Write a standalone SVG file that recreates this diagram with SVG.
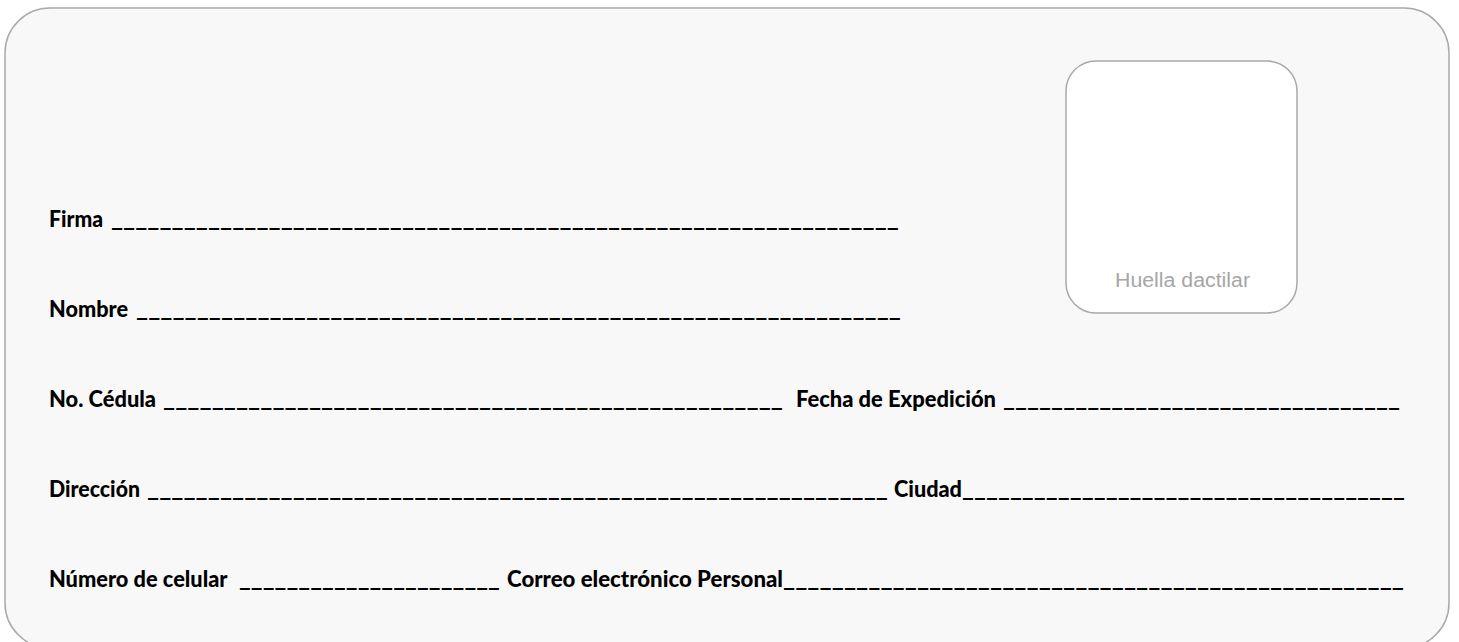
<svg xmlns="http://www.w3.org/2000/svg" width="1459" height="642" viewBox="0 0 1459 642">
  <style>
    .card { fill: #f8f8f8; stroke: #a9a9a9; stroke-width: 1.5; }
    .thumb { fill: #ffffff; stroke: #a9a9a9; stroke-width: 1.5; }
    .lbl { font-family: Lato, "Liberation Sans", sans-serif; font-weight: 900; font-size: 23px; fill: #000000; }
    .ul { font-family: Lato, "Liberation Sans", sans-serif; font-weight: 900; font-size: 23px; fill: #000000; }
    .hint { font-family: "Liberation Sans", Arial, sans-serif; font-size: 20px; fill: #a6a6a6; }
  </style>
  <rect width="1459" height="642" fill="#ffffff"/>
  <g id="card">
    <rect class="card" x="5" y="8" width="1444" height="640" rx="45" ry="45"/>
  </g>
  <g id="huella">
    <rect class="thumb" x="1066" y="61" width="231" height="252" rx="30" ry="30"/>
    <text class="hint" x="1182.5" y="287" text-anchor="middle" textLength="135" lengthAdjust="spacingAndGlyphs">Huella dactilar</text>
  </g>
  <g id="firma">
    <text class="lbl" x="49" y="226.5" textLength="54" lengthAdjust="spacingAndGlyphs">Firma</text>
    <text class="ul" x="111" y="226.5" textLength="788" lengthAdjust="spacingAndGlyphs">_________________________________________________________________</text>
  </g>
  <g id="nombre">
    <text class="lbl" x="49" y="316.5" textLength="79" lengthAdjust="spacingAndGlyphs">Nombre</text>
    <text class="ul" x="136" y="316.5" textLength="765" lengthAdjust="spacingAndGlyphs">_______________________________________________________________</text>
  </g>
  <g id="cedula">
    <text class="lbl" x="49" y="406.5" textLength="107" lengthAdjust="spacingAndGlyphs">No. Cédula</text>
    <text class="ul" x="163" y="406.5" textLength="620" lengthAdjust="spacingAndGlyphs">___________________________________________________</text>
  </g>
  <g id="expedicion">
    <text class="lbl" x="796" y="406.5" textLength="200" lengthAdjust="spacingAndGlyphs">Fecha de Expedición</text>
    <text class="ul" x="1003" y="406.5" textLength="397" lengthAdjust="spacingAndGlyphs">_________________________________</text>
  </g>
  <g id="direccion">
    <text class="lbl" x="49" y="496.5" textLength="91" lengthAdjust="spacingAndGlyphs">Dirección</text>
    <text class="ul" x="147" y="496.5" textLength="741" lengthAdjust="spacingAndGlyphs">_____________________________________________________________</text>
  </g>
  <g id="ciudad">
    <text class="lbl" x="894" y="496.5" textLength="68" lengthAdjust="spacingAndGlyphs">Ciudad</text>
    <text class="ul" x="962" y="496.5" textLength="443" lengthAdjust="spacingAndGlyphs">_____________________________________</text>
  </g>
  <g id="celular">
    <text class="lbl" x="49" y="586.5" textLength="178.5" lengthAdjust="spacingAndGlyphs">Número de celular</text>
    <text class="ul" x="239" y="586.5" textLength="261" lengthAdjust="spacingAndGlyphs">______________________</text>
  </g>
  <g id="correo">
    <text class="lbl" x="507" y="586.5" textLength="276" lengthAdjust="spacingAndGlyphs">Correo electrónico Personal</text>
    <text class="ul" x="783" y="586.5" textLength="621" lengthAdjust="spacingAndGlyphs">___________________________________________________</text>
  </g>
  <g id="connectors"/>
</svg>
